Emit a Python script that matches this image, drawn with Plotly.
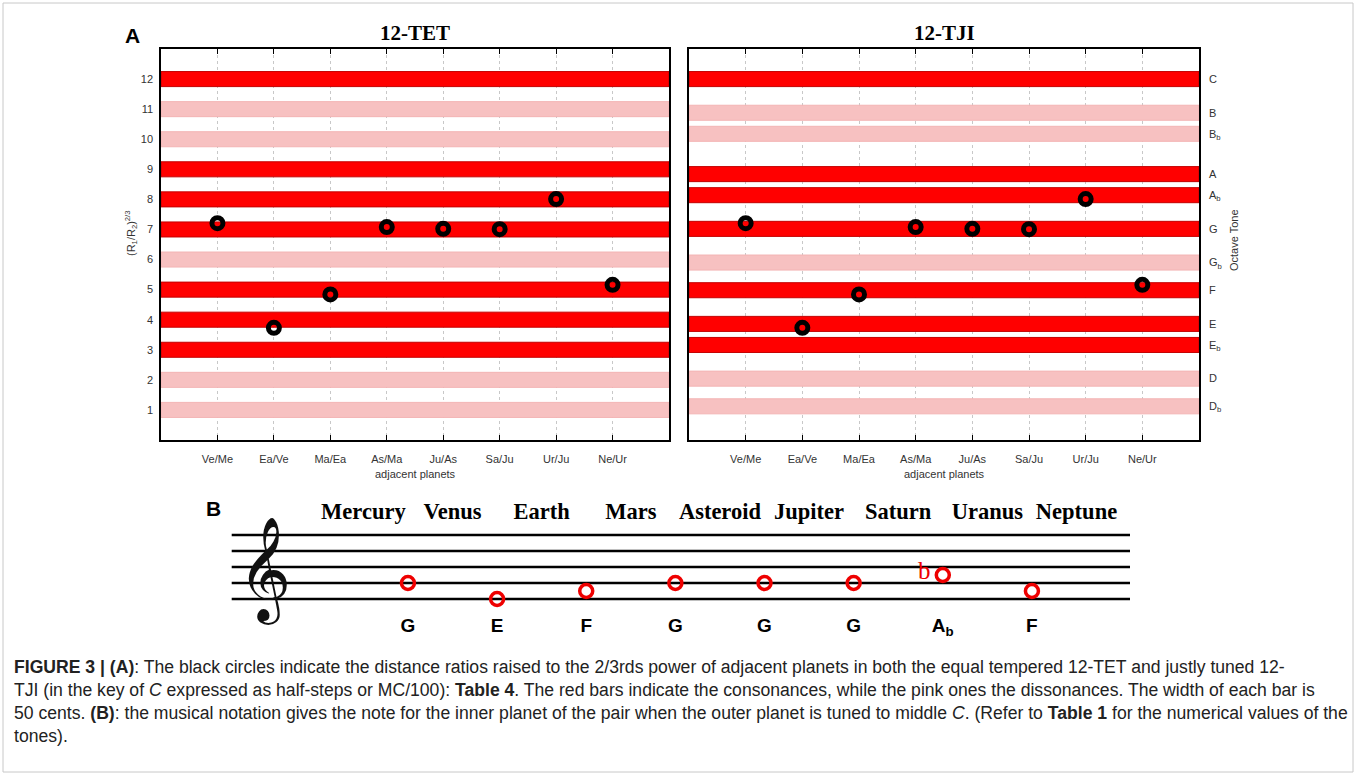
import plotly.graph_objects as go

# ---- data -------------------------------------------------------------
pairs = ["Ve/Me", "Ea/Ve", "Ma/Ea", "As/Ma", "Ju/As", "Sa/Ju", "Ur/Ju", "Ne/Ur"]
# (R1/R2)^(2/3) expressed in half-steps above C
ratio_halfsteps = [7.21, 3.73, 4.84, 7.08, 7.02, 7.01, 8.01, 5.16]

# equal tempered scale: half-steps 1..12
tet_steps = [1, 2, 3, 4, 5, 6, 7, 8, 9, 10, 11, 12]
# justly tuned scale, positions in half-steps
tji_steps = [1.12, 2.04, 3.16, 3.86, 4.98, 5.90, 7.02, 8.14, 8.84, 10.18, 10.88, 12.00]
tji_names = ["D<sub>b</sub>", "D", "E<sub>b</sub>", "E", "F", "G<sub>b</sub>", "G",
             "A<sub>b</sub>", "A", "B<sub>b</sub>", "B", "C"]
# consonant (True) / dissonant (False) interval for each step 1..12
consonant = [False, False, True, True, True, False, True, True, True, False, False, True]

planets = ["Mercury", "Venus", "Earth", "Mars", "Asteroid", "Jupiter", "Saturn", "Uranus", "Neptune"]
note_names = ["G", "E", "F", "G", "G", "G", "A<sub>b</sub>", "F"]
# diatonic steps above the bottom staff line (E4)
note_steps = [2, 0, 1, 2, 2, 2, 3, 1]
note_flat = [False, False, False, False, False, False, True, False]
staff_lines = [0, 2, 4, 6, 8]

# ---- style ------------------------------------------------------------
W, H = 1357, 775
RED, RED_EDGE = "#ff0000", "#c40000"
PINK, PINK_EDGE = "#f7c1c1", "#f3b4b4"
SANS = "Liberation Sans"
SERIF = "Liberation Serif"
BAR_WIDTH = 0.5          # 50 cents
X_MAX = 9


def px(x):
    return x / W


def py(y):
    return 1 - y / H


def note(text, x, y, size, family=SANS, color="black", **kw):
    d = dict(text=text, x=x, y=y, xref="paper", yref="paper", showarrow=False,
             xanchor="center", yanchor="middle", font=dict(family=family, size=size, color=color))
    d.update(kw)
    return d


bar_colors = [RED if c else PINK for c in consonant]
edge_colors = [RED_EDGE if c else PINK_EDGE for c in consonant]

fig = go.Figure()

for xa, ya, steps in (("x", "y", tet_steps), ("x2", "y2", tji_steps)):
    fig.add_trace(go.Bar(
        orientation="h", y=steps, x=[X_MAX] * len(steps), base=0,
        width=BAR_WIDTH, xaxis=xa, yaxis=ya,
        marker=dict(color=bar_colors, line=dict(color=edge_colors, width=1)),
        showlegend=False, hoverinfo="skip"))
    fig.add_trace(go.Scatter(
        x=list(range(1, len(pairs) + 1)), y=ratio_halfsteps, mode="markers",
        xaxis=xa, yaxis=ya,
        marker=dict(symbol="circle", size=11, color="rgba(0,0,0,0)",
                    line=dict(color="black", width=5)),
        showlegend=False))

# ---- staff (panel B) --------------------------------------------------
note_x = [i + 0.5 for i in range(len(note_names))]
fig.add_trace(go.Scatter(
    x=list(range(len(planets))), y=[10.75] * len(planets), text=planets,
    mode="text", xaxis="x3", yaxis="y3",
    textfont=dict(family=SERIF, size=22.5, color="black", weight="bold"),
    showlegend=False))
fig.add_trace(go.Scatter(
    x=note_x, y=note_steps, mode="markers", xaxis="x3", yaxis="y3",
    marker=dict(symbol="circle-open", size=13, color="#ee0000", line=dict(width=3.5)),
    showlegend=False))
fig.add_trace(go.Scatter(
    x=note_x, y=[-3.5] * len(note_names), text=note_names, mode="text",
    xaxis="x3", yaxis="y3",
    textfont=dict(family=SANS, size=19, color="black", weight="bold"),
    showlegend=False))

shapes = []
for s in staff_lines:
    shapes.append(dict(type="line", xref="x3 domain", x0=0, x1=1, yref="y3", y0=s, y1=s,
                       line=dict(color="black", width=2.5), layer="below"))
shapes.append(dict(type="rect", xref="paper", yref="paper", x0=px(3), x1=px(1353),
                   y0=py(772), y1=py(3), line=dict(color="#c8c8c8", width=1)))

annotations = []
for xn, flat, st in zip(note_x, note_flat, note_steps):
    if flat:
        annotations.append(dict(text="b", x=xn, y=st, xref="x3", yref="y3", xshift=-18, yshift=5,
                                xanchor="center", yanchor="middle", showarrow=False,
                                font=dict(family=SERIF, size=25, color="#ee0000")))

annotations += [
    note("𝄞", px(264), py(570), 90, family="DejaVu Sans", color="#111"),
    note("<b>A</b>", px(132), py(35), 21),
    note("<b>B</b>", px(213), py(508), 21),
    note("<b>12-TET</b>", 0.5, py(33), 21, family=SERIF, xref="x domain"),
    note("<b>12-TJI</b>", 0.5, py(33), 21, family=SERIF, xref="x2 domain"),
    note("adjacent planets", 0.5, py(474), 11, color="#333", xref="x domain"),
    note("adjacent planets", 0.5, py(474), 11, color="#333", xref="x2 domain"),
    note("(R<sub>1</sub>/R<sub>2</sub>)<sup>2/3</sup>", px(131), py(233), 11, color="#333",
         textangle=-90),
    note("Octave Tone", px(1234), py(240), 11, color="#333", textangle=-90),
]

caption = [
    "<b>FIGURE 3 | (A)</b>: The black circles indicate the distance ratios raised to the 2/3rds power of adjacent planets in both the equal tempered 12-TET and justly tuned 12-",
    "TJI (in the key of <i>C</i> expressed as half-steps or MC/100): <b>Table 4</b>. The red bars indicate the consonances, while the pink ones the dissonances. The width of each bar is",
    "50 cents. <b>(B)</b>: the musical notation gives the note for the inner planet of the pair when the outer planet is tuned to middle <i>C</i>. (Refer to <b>Table 1</b> for the numerical values of the",
    "tones).",
]
for k, line in enumerate(caption):
    annotations.append(note(line, px(12), py(667 + 23 * k), 17.6, color="#222", xanchor="left"))

# ---- axes -------------------------------------------------------------
ydom = [py(440), py(49)]
common_x = dict(range=[0, X_MAX], tickvals=list(range(1, len(pairs) + 1)), ticktext=pairs,
                ticks="inside", ticklen=5, tickcolor="black", showline=True, linecolor="black",
                linewidth=1.5, mirror="ticks", showgrid=True, gridcolor="#c8c8c8", griddash="dot",
                zeroline=False, tickfont=dict(family=SANS, size=11, color="#333"),
                ticklabelstandoff=8, fixedrange=True)
common_y = dict(range=[0, 13], domain=ydom, ticks="", showline=True, linecolor="black",
                linewidth=1.5, mirror=True, showgrid=False, zeroline=False,
                tickfont=dict(family=SANS, size=11, color="#333"), fixedrange=True)

fig.update_layout(
    width=W, height=H, margin=dict(l=0, r=0, t=0, b=0),
    paper_bgcolor="white", plot_bgcolor="white",
    xaxis=dict(common_x, domain=[px(161), px(669)], anchor="y"),
    yaxis=dict(common_y, anchor="x", tickvals=tet_steps, ticktext=[str(v) for v in tet_steps],
               ticklabelstandoff=4),
    xaxis2=dict(common_x, domain=[px(689), px(1199)], anchor="y2"),
    yaxis2=dict(common_y, anchor="x2", side="right", tickvals=tji_steps, ticktext=tji_names,
                ticklabelstandoff=6),
    xaxis3=dict(domain=[px(231.7), px(1130)], range=[-1.477, 8.60], visible=False, anchor="y3"),
    yaxis3=dict(domain=[py(640), py(495)], range=[-5.125, 13], visible=False, anchor="x3"),
    shapes=shapes, annotations=annotations, showlegend=False,
)

fig.write_html("out.html")
